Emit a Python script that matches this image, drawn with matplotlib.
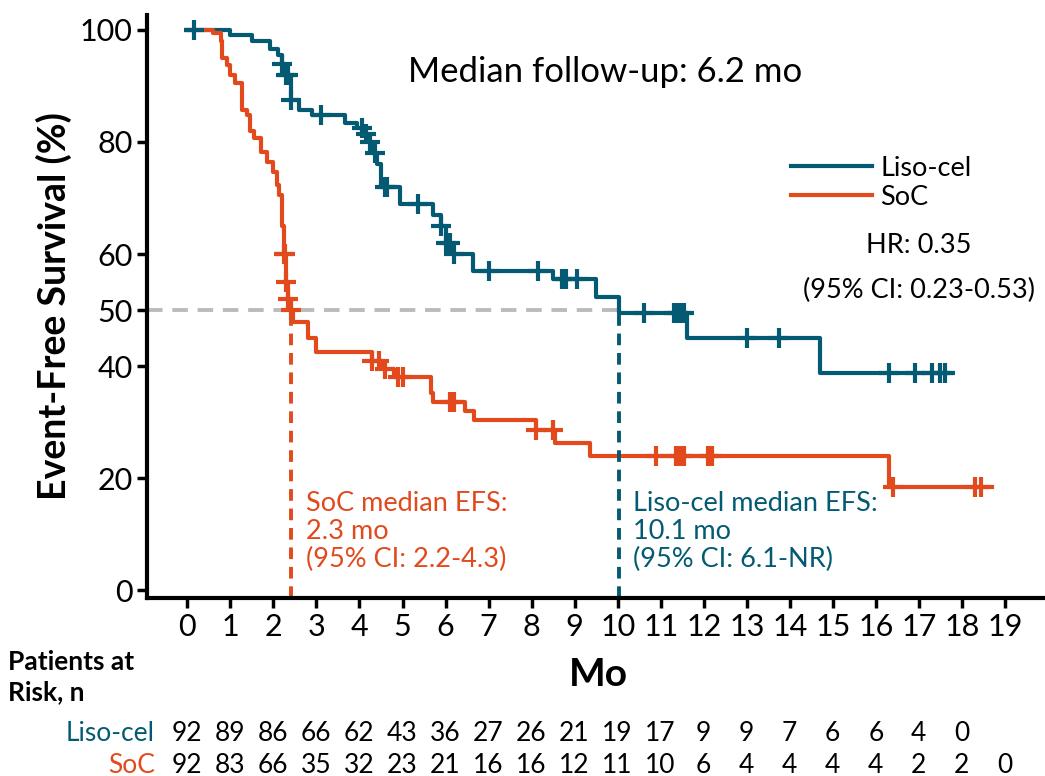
import matplotlib
matplotlib.use("Agg")
from matplotlib import pyplot as plt

plt.rcParams['font.family'] = ['Lato', 'DejaVu Sans']

BLUE = '#045a73'
ORANGE = '#e2491d'

# Liso-cel step curve (time in months, EFS %)
liso_t = [0, 1.0, 1.5, 1.93, 2.1, 2.2, 2.3, 2.4, 2.6, 2.9, 3.67, 3.95, 4.1, 4.2, 4.3, 4.4, 4.5,
          4.95, 5.7, 5.9, 6.0, 6.15, 6.64, 8.5, 9.5, 10.03, 11.6, 14.7, 17.75]
liso_s = [100, 99, 98, 96.5, 95.5, 94, 92, 87.5, 85.7, 84.8, 83.4, 82.5, 81.5, 80, 78, 76, 72,
          69, 67, 65, 62, 60, 57, 55.5, 52.3, 49.5, 45, 38.8, 38.8]
liso_cens_t = [0.15, 2.2, 2.3, 2.35, 2.4, 3.1, 4.05, 4.15, 4.25, 4.35, 4.6, 4.65, 5.35, 5.9, 6.0,
               6.1, 6.2, 7.0, 8.15, 8.7, 8.8, 9.05, 10.6, 11.3, 11.4, 11.5, 11.55, 13.0, 13.75,
               16.3, 16.9, 17.3, 17.5, 17.6]

# SoC step curve
soc_t = [0, 0.6, 0.77, 0.8, 0.93, 1.0, 1.1, 1.27, 1.38, 1.46, 1.54, 1.7, 1.85, 2.0, 2.08, 2.13,
         2.2, 2.25, 2.3, 2.35, 2.4, 2.45, 2.8, 3.0, 4.3, 4.55, 4.8, 5.66, 5.7, 6.46, 6.65, 8.1,
         8.55, 9.35, 16.3, 18.7]
soc_s = [100, 99.4, 98, 95, 93.7, 92, 90.5, 85.7, 84.8, 82, 80.7, 78.2, 76.4, 74.6, 72.3, 70.5,
         65, 60, 55, 52, 50, 47.8, 45, 42.5, 41, 39.5, 38, 35.2, 33.6, 32, 30.4, 28.6,
         26.3, 23.9, 18.4, 18.4]
soc_cens_t = [2.25, 2.28, 2.3, 2.35, 2.4, 4.3, 4.45, 4.6, 4.9, 5.0, 6.1, 6.2, 8.1, 8.5,
              10.9, 11.35, 11.45, 11.55, 12.1, 12.2, 16.4, 18.3, 18.45]

risk_times = list(range(20))
liso_risk = [92, 89, 86, 66, 62, 43, 36, 27, 26, 21, 19, 17, 9, 9, 7, 6, 6, 4, 0]
soc_risk = [92, 83, 66, 35, 32, 23, 21, 16, 16, 12, 11, 10, 6, 4, 4, 4, 4, 2, 2, 0]


def surv_at(ts, ss, x):
    v = ss[0]
    for t, s in zip(ts, ss):
        if t <= x:
            v = s
    return v


fig = plt.figure(figsize=(10.45, 7.76), dpi=100)
ax = fig.add_axes([0.141, 0.229, 0.859, 0.752])

ax.step(liso_t, liso_s, where='post', color=BLUE, lw=3, label='Liso-cel')
ax.step(soc_t, soc_s, where='post', color=ORANGE, lw=3, label='SoC')
ax.plot(liso_cens_t, [surv_at(liso_t, liso_s, t) for t in liso_cens_t], ls='none',
        marker='+', ms=14, mew=3, color=BLUE)
ax.plot(soc_cens_t, [surv_at(soc_t, soc_s, t) for t in soc_cens_t], ls='none',
        marker='+', ms=14, mew=3, color=ORANGE)

# median lines
ax.plot([-0.93, 10.03], [50, 50], ls='--', color='#bbbbbb', lw=2.8, dashes=(4, 2.5), zorder=0)
ax.plot([2.4, 2.4], [-1.4, 50], ls='--', color=ORANGE, lw=2.8, dashes=(3, 2))
ax.plot([10.03, 10.03], [-1.4, 49.5], ls='--', color=BLUE, lw=2.8, dashes=(3, 2))

ax.set_xlim(-0.93, 19.93)
ax.set_ylim(-1.4, 102.7)
ax.set_xticks(risk_times)
ax.set_yticks([0, 20, 40, 50, 60, 80, 100])
ax.tick_params(labelsize=22, width=2.5, length=7)
for sp in ['top', 'right']:
    ax.spines[sp].set_visible(False)
for sp in ['left', 'bottom']:
    ax.spines[sp].set_linewidth(3)
ax.set_ylabel('Event-Free Survival (%)', fontsize=27, fontweight='bold', labelpad=6)

ax.text(9.7, 92.5, 'Median follow-up: 6.2 mo', fontsize=25, ha='center', va='center')
ax.text(17.0, 61.6, 'HR: 0.35', fontsize=19.5, ha='center', va='center')
ax.text(17.0, 53.6, '(95% CI: 0.23-0.53)', fontsize=19.5, ha='center', va='center')
ax.text(2.75, 10.5, 'SoC median EFS:\n2.3 mo\n(95% CI: 2.2-4.3)', fontsize=19.5,
        color=ORANGE, va='center', linespacing=1.15)
ax.text(10.35, 10.5, 'Liso-cel median EFS:\n10.1 mo\n(95% CI: 6.1-NR)', fontsize=19.5,
        color=BLUE, va='center', linespacing=1.15)
ax.legend(loc='upper left', bbox_to_anchor=(0.69, 0.8), frameon=False, fontsize=19.5,
          handlelength=3.0, handletextpad=0.3, labelspacing=0.15)

fig.text(0.008, 0.128, 'Patients at\nRisk, n', fontsize=19, fontweight='bold', va='center',
         linespacing=1.3)
fig.text(0.573, 0.131, 'Mo', fontsize=28, fontweight='bold', ha='center', va='center')
fig.text(0.148, 0.055, 'Liso-cel', fontsize=19, color=BLUE, ha='right', va='center')
fig.text(0.148, 0.014, 'SoC', fontsize=19, color=ORANGE, ha='right', va='center')
for t, n in zip(risk_times, liso_risk):
    fig.text((187 + t * 43.05) / 1045, 0.055, str(n), fontsize=19, ha='center', va='center')
for t, n in zip(risk_times, soc_risk):
    fig.text((187 + t * 43.05) / 1045, 0.014, str(n), fontsize=19, ha='center', va='center')

fig.savefig('out.png', dpi=100)
